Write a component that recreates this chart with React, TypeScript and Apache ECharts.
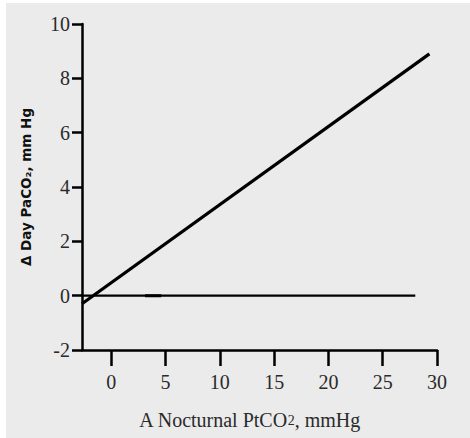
import React, { useEffect, useRef } from "react";
import * as echarts from "echarts";

const xTicks = [0, 5, 10, 15, 20, 25, 30];
const regressionLine = [
  [-2.7, -0.3],
  [29.3, 8.9],
];
const zeroLine = [
  [-2.7, 0],
  [28, 0],
];
const zeroMark = [
  [3.1, 0],
  [4.6, 0],
];

export default function App() {
  const ref = useRef<HTMLDivElement>(null);
  useEffect(() => {
    const chart = echarts.init(ref.current!, null, { renderer: "svg" });
    chart.setOption({
      animation: false,
      graphic: [
        {
          type: "rect",
          z: -10,
          shape: { x: 6, y: 3, width: 464, height: 435 },
          style: { fill: "#ebebeb" },
          silent: true,
        },
      ],
      grid: { left: 82, top: 24, right: 33, bottom: 88 },
      xAxis: {
        type: "value",
        min: -2.7,
        max: 30,
        name: "A Nocturnal PtCO{s|2}, mmHg",
        nameLocation: "middle",
        nameGap: 60,
        nameTextStyle: {
          fontFamily: "Liberation Serif",
          fontSize: 20,
          color: "#2a2a2a",
          padding: [0, 20, 0, 0],
          rich: { s: { fontFamily: "Liberation Serif", fontSize: 14, color: "#2a2a2a" } },
        },
        axisLine: { show: true, onZero: false, lineStyle: { color: "#000", width: 2.5 } },
        axisTick: {
          show: true,
          length: 16,
          customValues: xTicks,
          lineStyle: { color: "#000", width: 2.5 },
        },
        axisLabel: {
          customValues: xTicks,
          margin: 22,
          fontFamily: "Liberation Serif",
          fontSize: 20,
          color: "#2a2a2a",
        },
        splitLine: { show: false },
      },
      yAxis: {
        type: "value",
        min: -2,
        max: 10,
        interval: 2,
        name: "Δ Day PaCO₂, mm Hg",
        nameLocation: "middle",
        nameGap: 49,
        nameTextStyle: {
          fontFamily: "DejaVu Sans",
          fontWeight: "bold",
          fontSize: 13.5,
          color: "#111",
        },
        axisLine: { show: true, onZero: false, lineStyle: { color: "#000", width: 2.5 } },
        axisTick: { show: true, length: 10, lineStyle: { color: "#000", width: 2.5 } },
        axisLabel: {
          margin: 12,
          fontFamily: "Liberation Serif",
          fontSize: 20,
          color: "#2a2a2a",
        },
        splitLine: { show: false },
      },
      series: [
        {
          type: "line",
          data: regressionLine,
          showSymbol: false,
          lineStyle: { color: "#000", width: 3.2 },
        },
        {
          type: "line",
          data: zeroLine,
          showSymbol: false,
          lineStyle: { color: "#000", width: 2.2 },
        },
        {
          type: "line",
          data: zeroMark,
          showSymbol: false,
          lineStyle: { color: "#000", width: 3 },
        },
      ],
    });
    return () => chart.dispose();
  }, []);
  return (
    <div
      ref={ref}
      style={{ position: "fixed", left: 0, top: 0, width: 470, height: 438, background: "#fff" }}
    />
  );
}
